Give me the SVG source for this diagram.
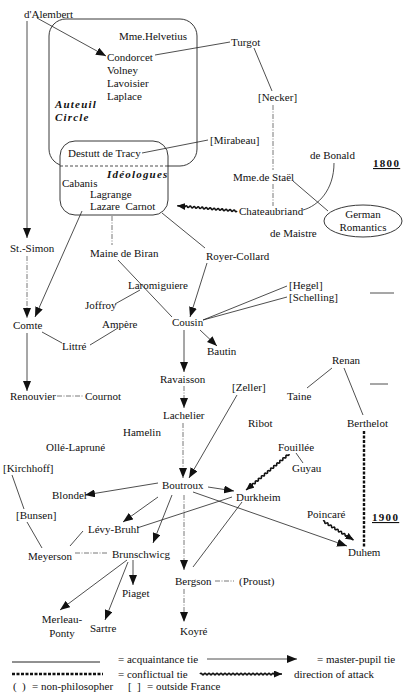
<svg xmlns="http://www.w3.org/2000/svg" width="406" height="697" viewBox="0 0 406 697">
<defs>
<style>
text{font-family:"Liberation Serif","Times New Roman",serif;font-size:11px;fill:#111}
.bi{font-weight:bold;font-style:italic;letter-spacing:1.2px}
.yr{font-weight:bold;letter-spacing:1.3px;text-decoration:underline}
.mid{text-anchor:middle}
.l{stroke:#222;stroke-width:0.8;fill:none}
.f{stroke:#555;stroke-width:0.8;fill:none;stroke-dasharray:5 1.5 1 1.5}
.box{stroke:#222;stroke-width:0.9;fill:none}
.cf{stroke:#111;stroke-width:2.4;fill:none;stroke-dasharray:3 1.5}
.wv{stroke:#111;stroke-width:1.6;fill:none}
</style>
<marker id="arr" markerUnits="userSpaceOnUse" markerWidth="11" markerHeight="8" refX="10" refY="4" orient="auto"><path d="M0,0 L10,4 L0,8 z" fill="#111"/></marker>
<marker id="atk" markerUnits="userSpaceOnUse" markerWidth="9" markerHeight="7" refX="8" refY="3.5" orient="auto"><path d="M0,0 L8,3.5 L0,7 z" fill="#111"/></marker>
</defs>
<rect width="406" height="697" fill="#fff"/>

<g id="groups">
<rect x="49" y="19" width="148" height="147" rx="17" class="box"/>
<rect x="60" y="141" width="108" height="74" rx="15" class="box" fill="#fff" style="fill:#fff"/>
<line x1="60" y1="166" x2="168" y2="166" stroke="#222" stroke-width="0.8" stroke-dasharray="3 2"/>
<text x="55" y="108" class="bi">Auteuil</text>
<text x="55" y="121" class="bi">Circle</text>
<text x="107" y="178" class="bi">Idéologues</text>
</g>

<g id="connectors">
<line x1="27" y1="21" x2="27" y2="238" class="l" marker-end="url(#arr)"/>
<line x1="27" y1="256" x2="27" y2="318" class="f" marker-end="url(#arr)"/>
<line x1="27" y1="333" x2="27" y2="391" class="l" marker-end="url(#arr)"/>
<line x1="37" y1="18" x2="106" y2="56" class="l" marker-end="url(#arr)"/>
<line x1="155" y1="55" x2="230" y2="42" class="l"/>
<line x1="254" y1="48" x2="272" y2="91" class="l"/>
<line x1="273" y1="105" x2="273" y2="170" class="f"/>
<line x1="273" y1="184" x2="273" y2="206" class="f"/>
<line x1="142" y1="153" x2="208" y2="140" class="l"/>
<line x1="293" y1="181" x2="328" y2="211" class="l"/>
<path d="M303,210 C318,206 334,190 334,163" class="l"/>
<path d="M0,0 q1,-1.6 2,0 t2,0 t2,0 t2,0 t2,0 t2,0 t2,0 t2,0 t2,0 t2,0 t2,0 t2,0 t2,0 t2,0 t2,0 t2,0 t2,0 t2,0 t2,0 t2,0 t2,0 t2,0 t2,0 t2,0 t2,0 t2,0 t2,0 t2,0 h4" class="wv" transform="translate(237,211) rotate(185)" marker-end="url(#atk)"/>
<line x1="112" y1="216" x2="112" y2="245" class="f"/>
<line x1="82" y1="211" x2="35" y2="317" class="l" marker-end="url(#arr)"/>
<line x1="162" y1="213" x2="205" y2="248" class="l"/>
<line x1="118" y1="260" x2="172" y2="317" class="l"/>
<line x1="115" y1="304" x2="140" y2="290" class="l"/>
<line x1="207" y1="263" x2="190" y2="317" class="l" marker-end="url(#arr)"/>
<line x1="42" y1="332" x2="62" y2="343" class="l"/>
<line x1="90" y1="345" x2="118" y2="328" class="l"/>
<line x1="203" y1="320" x2="287" y2="286" class="l"/>
<line x1="203" y1="320" x2="287" y2="297" class="l"/>
<line x1="200" y1="330" x2="217" y2="346" class="l" marker-end="url(#arr)"/>
<line x1="184" y1="330" x2="184" y2="372" class="l" marker-end="url(#arr)"/>
<line x1="184" y1="386" x2="184" y2="408" class="f" marker-end="url(#arr)"/>
<line x1="183" y1="423" x2="183" y2="478" class="f" marker-end="url(#arr)"/>
<line x1="237" y1="395" x2="189" y2="478" class="l" marker-end="url(#arr)"/>
<line x1="57" y1="396" x2="84" y2="396" class="f"/>
<line x1="332" y1="368" x2="307" y2="388" class="l"/>
<line x1="344" y1="368" x2="363" y2="415" class="l"/>
<line x1="364" y1="431" x2="364" y2="547" class="cf"/>
<line x1="296" y1="453" x2="303" y2="463" class="l"/>
<path d="M0,0 q1,-1.6 2,0 t2,0 t2,0 t2,0 t2,0 t2,0 t2,0 t2,0 t2,0 t2,0 t2,0 t2,0 t2,0 t2,0 t2,0 t2,0 t2,0 t2,0 t2,0 t2,0 t2,0 t2,0 t2,0 t2,0 t2,0 t2,0 h4" class="wv" transform="translate(289,454) rotate(140)" marker-end="url(#atk)"/>
<path d="M0,0 q1,-1.6 2,0 t2,0 t2,0 t2,0 t2,0 t2,0 t2,0 t2,0 t2,0 t2,0 t2,0 t2,0 t2,0 t2,0 t2,0 t2,0 t2,0 h2" class="wv" transform="translate(323,521) rotate(32)" marker-end="url(#atk)"/>
<line x1="208" y1="487" x2="234" y2="491" class="l" marker-end="url(#arr)"/>
<line x1="193" y1="492" x2="347" y2="546" class="l" marker-end="url(#arr)"/>
<line x1="158" y1="483" x2="85" y2="495" class="l" marker-end="url(#arr)"/>
<line x1="158" y1="497" x2="123" y2="522" class="l" marker-end="url(#arr)"/>
<line x1="232" y1="497" x2="137" y2="528" class="l"/>
<line x1="172" y1="495" x2="153" y2="543" class="l" marker-end="url(#arr)"/>
<line x1="184" y1="495" x2="184" y2="570" class="f" marker-end="url(#arr)"/>
<line x1="242" y1="502" x2="193" y2="567" class="l"/>
<line x1="184" y1="589" x2="184" y2="622" class="f" marker-end="url(#arr)"/>
<line x1="215" y1="581" x2="234" y2="581" class="f"/>
<line x1="12" y1="475" x2="24" y2="509" class="l"/>
<line x1="27" y1="522" x2="42" y2="548" class="l"/>
<line x1="70" y1="546" x2="83" y2="531" class="l"/>
<line x1="75" y1="553" x2="108" y2="553" class="f"/>
<line x1="127" y1="560" x2="60" y2="610" class="l" marker-end="url(#arr)"/>
<line x1="128" y1="562" x2="105" y2="620" class="l" marker-end="url(#arr)"/>
<line x1="133" y1="560" x2="133" y2="585" class="l" marker-end="url(#arr)"/>
<line x1="370" y1="293" x2="394" y2="293" class="l"/>
<line x1="370" y1="384" x2="388" y2="384" class="l"/>
</g>

<ellipse id="german-romantics-shape" cx="363" cy="221" rx="39" ry="16" class="box"/>

<g id="nodes">
<g id="dalembert"><text x="24" y="18">d'Alembert</text></g>
<g id="helvetius"><text x="119" y="40">Mme.Helvetius</text></g>
<g id="condorcet"><text x="107" y="61">Condorcet</text></g>
<g id="volney"><text x="107" y="74">Volney</text></g>
<g id="lavoisier"><text x="107" y="87">Lavoisier</text></g>
<g id="laplace"><text x="107" y="100">Laplace</text></g>
<g id="tracy"><text x="68" y="157">Destutt de Tracy</text></g>
<g id="cabanis"><text x="62" y="187">Cabanis</text></g>
<g id="lagrange"><text x="90" y="198">Lagrange</text></g>
<g id="carnot"><text x="90" y="210" xml:space="preserve">Lazare  Carnot</text></g>
<g id="turgot"><text x="231" y="46">Turgot</text></g>
<g id="necker"><text x="258" y="101">[Necker]</text></g>
<g id="mirabeau"><text x="210" y="144">[Mirabeau]</text></g>
<g id="bonald"><text x="310" y="159">de Bonald</text></g>
<g id="y1800"><text x="373" y="167" class="yr">1800</text></g>
<g id="stael"><text x="233" y="181">Mme.de Staël</text></g>
<g id="chateaubriand"><text x="239" y="215">Chateaubriand</text></g>
<g id="german"><text x="363" y="218" class="mid">German</text><text x="363" y="231" class="mid">Romantics</text></g>
<g id="maistre"><text x="270" y="237">de Maistre</text></g>
<g id="stsimon"><text x="10" y="252">St.-Simon</text></g>
<g id="biran"><text x="90" y="257">Maine de Biran</text></g>
<g id="royer"><text x="206" y="260">Royer-Collard</text></g>
<g id="laromiguiere"><text x="128" y="289">Laromiguiere</text></g>
<g id="hegel"><text x="289" y="289">[Hegel]</text></g>
<g id="schelling"><text x="289" y="301">[Schelling]</text></g>
<g id="joffroy"><text x="85" y="309">Joffroy</text></g>
<g id="comte"><text x="13" y="329">Comte</text></g>
<g id="ampere"><text x="102" y="328">Ampère</text></g>
<g id="cousin"><text x="172" y="326">Cousin</text></g>
<g id="littre"><text x="62" y="350">Littré</text></g>
<g id="bautin"><text x="207" y="355">Bautin</text></g>
<g id="renan"><text x="332" y="364">Renan</text></g>
<g id="ravaisson"><text x="160" y="383">Ravaisson</text></g>
<g id="zeller"><text x="232" y="391">[Zeller]</text></g>
<g id="taine"><text x="287" y="400">Taine</text></g>
<g id="renouvier"><text x="10" y="400">Renouvier</text></g>
<g id="cournot"><text x="85" y="400">Cournot</text></g>
<g id="lachelier"><text x="163" y="419">Lachelier</text></g>
<g id="berthelot"><text x="347" y="427">Berthelot</text></g>
<g id="ribot"><text x="248" y="427">Ribot</text></g>
<g id="hamelin"><text x="123" y="436">Hamelin</text></g>
<g id="ollelaprune"><text x="46" y="451">Ollé-Lapruné</text></g>
<g id="fouillee"><text x="278" y="451">Fouillée</text></g>
<g id="kirchhoff"><text x="3" y="472">[Kirchhoff]</text></g>
<g id="guyau"><text x="292" y="472">Guyau</text></g>
<g id="boutroux"><text x="162" y="489">Boutroux</text></g>
<g id="blondel"><text x="52" y="499">Blondel</text></g>
<g id="durkheim"><text x="236" y="501">Durkheim</text></g>
<g id="poincare"><text x="307" y="518">Poincaré</text></g>
<g id="y1900"><text x="372" y="521" class="yr">1900</text></g>
<g id="bunsen"><text x="16" y="519">[Bunsen]</text></g>
<g id="levybruhl"><text x="88" y="533">Lévy-Bruhl</text></g>
<g id="duhem"><text x="348" y="556">Duhem</text></g>
<g id="meyerson"><text x="28" y="560">Meyerson</text></g>
<g id="brunschwicg"><text x="112" y="558">Brunschwicg</text></g>
<g id="bergson"><text x="175" y="585">Bergson</text></g>
<g id="proust"><text x="239" y="585">(Proust)</text></g>
<g id="piaget"><text x="122" y="597">Piaget</text></g>
<g id="merleauponty"><text x="62" y="623" class="mid">Merleau-</text><text x="62" y="637" class="mid">Ponty</text></g>
<g id="sartre"><text x="90" y="632">Sartre</text></g>
<g id="koyre"><text x="180" y="635">Koyré</text></g>
</g>

<g id="legend">
<line x1="12" y1="662" x2="100" y2="662" stroke="#222" stroke-width="1"/>
<text x="118" y="663">= acquaintance tie</text>
<line x1="207" y1="659" x2="297" y2="659" class="l" marker-end="url(#arr)"/>
<text x="317" y="663">= master-pupil tie</text>
<line x1="12" y1="674" x2="103" y2="674" class="cf"/>
<text x="118" y="678">= conflictual tie</text>
<path d="M0,0 q1,-1.6 2,0 t2,0 t2,0 t2,0 t2,0 t2,0 t2,0 t2,0 t2,0 t2,0 t2,0 t2,0 t2,0 t2,0 t2,0 t2,0 t2,0 t2,0 t2,0 t2,0 t2,0 t2,0 t2,0 t2,0 t2,0 t2,0 t2,0 t2,0 t2,0 t2,0 t2,0 t2,0 t2,0 t2,0 t2,0 t2,0 t2,0 t2,0 t2,0 h4" class="wv" transform="translate(200,674)" marker-end="url(#atk)"/>
<text x="294" y="678">direction of attack</text>
<text x="13" y="690">(</text><text x="22" y="690">)</text><text x="32" y="690">= non-philosopher</text>
<text x="128" y="690">[</text><text x="137" y="690">]</text><text x="147" y="690">= outside France</text>
</g>
</svg>
